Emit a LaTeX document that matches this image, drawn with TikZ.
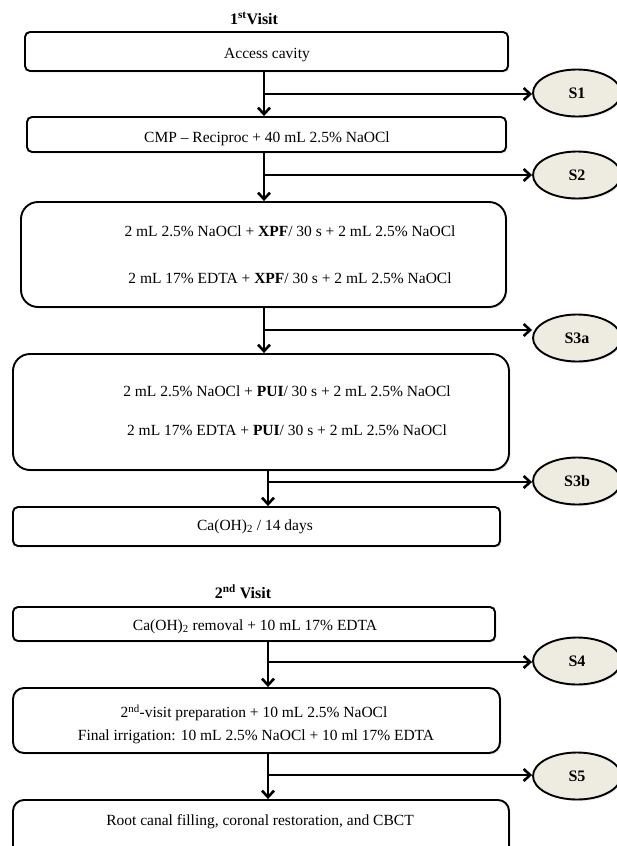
\documentclass[tikz,border=0pt]{standalone}
\usepackage{fontspec}
\setmainfont{Liberation Serif}
\usetikzlibrary{arrows.meta,shapes.geometric,shadows}
\definecolor{ellfill}{HTML}{EEECE1}
\begin{document}
\begin{tikzpicture}[x=1pt,y=-1pt,
  shad/.style={drop shadow={opacity=0.18, shadow xshift=1.5pt, shadow yshift=-1.5pt}},
  box/.style={draw=black, line width=1.9pt, rounded corners=5pt, inner sep=0pt, fill=white, shad},
  bigbox/.style={box, rounded corners=17pt},
  midbox/.style={box, rounded corners=11pt},
  txt/.style={font=\fontsize{15.5}{18}\selectfont, inner sep=0pt, text height=10pt, text depth=3pt},
  head/.style={font=\fontsize{16}{19}\selectfont\bfseries, inner sep=0pt, text height=10pt, text depth=3pt},
  sample/.style={ellipse, draw=black, line width=1.9pt, fill=ellfill, minimum width=88pt, minimum height=47pt, inner sep=0pt, font=\fontsize{16}{19}\selectfont\bfseries, shad},
  conn/.style={line width=2.6pt, -{Straight Barb[length=6.5pt,width=12pt]}},
]
\useasboundingbox (0,0) rectangle (616,846);
\fill[white] (0,0) rectangle (616,846);

% headers
\node[head] (h1) at (254,21) {1\textsuperscript{st}Visit};
\node[head] (h2) at (243,595) {2\textsuperscript{nd} Visit};

% boxes
\node[box, minimum width=483pt, minimum height=39pt] (B1) at (266.5,51.5) {};
\node[box, minimum width=479pt, minimum height=35pt] (B2) at (266.5,134.5) {};
\node[bigbox, minimum width=485pt, minimum height=105pt] (B3) at (263.5,254.5) {};
\node[bigbox, minimum width=496pt, minimum height=116pt] (B4) at (261,412) {};
\node[box, minimum width=487pt, minimum height=39pt] (B5) at (256.5,526.5) {};
\node[box, minimum width=482pt, minimum height=34pt] (B6) at (254,624) {};
\node[midbox, minimum width=487pt, minimum height=65pt] (B7) at (256.5,720.5) {};
\node[midbox, minimum width=496pt, minimum height=70pt] (B8) at (261,835) {};

% texts
\node[txt] (t1) at (267,55) {Access cavity};
\node[txt] (t2) at (267,139) {CMP – Reciproc + 40 mL 2.5\% NaOCl};
\node[txt] (t3a) at (290,233) {2 mL 2.5\% NaOCl + \textbf{XPF}/ 30 s + 2 mL 2.5\% NaOCl};
\node[txt] (t3b) at (290,280) {2 mL 17\% EDTA + \textbf{XPF}/ 30 s + 2 mL 2.5\% NaOCl};
\node[txt] (t4a) at (287,393) {2 mL 2.5\% NaOCl + \textbf{PUI}/ 30 s + 2 mL 2.5\% NaOCl};
\node[txt] (t4b) at (287,432) {2 mL 17\% EDTA + \textbf{PUI}/ 30 s + 2 mL 2.5\% NaOCl};
\node[txt] (t5) at (255,527) {Ca(OH)\textsubscript{2} / 14 days};
\node[txt] (t6) at (255,627) {Ca(OH)\textsubscript{2} removal + 10 mL 17\% EDTA};
\node[txt] (t7a) at (254,714) {2\textsuperscript{nd}-visit preparation + 10 mL 2.5\% NaOCl};
\node[txt] (t7b) at (256,737) {Final irrigation: 10 mL 2.5\% NaOCl + 10 ml 17\% EDTA};
\node[txt] (t8) at (260,822) {Root canal filling, coronal restoration, and CBCT};

% sample ellipses
\node[sample] (S1) at (577,93) {S1};
\node[sample] (S2) at (577,175) {S2};
\node[sample] (S3a) at (577,338) {S3a};
\node[sample] (S3b) at (577,481) {S3b};
\node[sample] (S4) at (577,661) {S4};
\node[sample] (S5) at (577,776) {S5};

% spine x positions and branch points
\coordinate (va) at (264,0);
\coordinate (vb) at (268,0);
\coordinate (j1) at (264,94);
\coordinate (j2) at (264,175);
\coordinate (j3) at (264,330);
\coordinate (j4) at (268,482);
\coordinate (j5) at (268,662);
\coordinate (j6) at (268,775);

% vertical connectors
\draw[conn] (B1.south -| va) -- (B2.north -| va);
\draw[conn] (B2.south -| va) -- (B3.north -| va);
\draw[conn] (B3.south -| va) -- (B4.north -| va);
\draw[conn] (B4.south -| vb) -- (B5.north -| vb);
\draw[conn] (B6.south -| vb) -- (B7.north -| vb);
\draw[conn] (B7.south -| vb) -- (B8.north -| vb);

% horizontal connectors
\draw[conn] (j1) -- (j1 -| S1.west);
\draw[conn] (j2) -- (j2 -| S2.west);
\draw[conn] (j3) -- (j3 -| S3a.west);
\draw[conn] (j4) -- (j4 -| S3b.west);
\draw[conn] (j5) -- (j5 -| S4.west);
\draw[conn] (j6) -- (j6 -| S5.west);
\end{tikzpicture}
\end{document}
